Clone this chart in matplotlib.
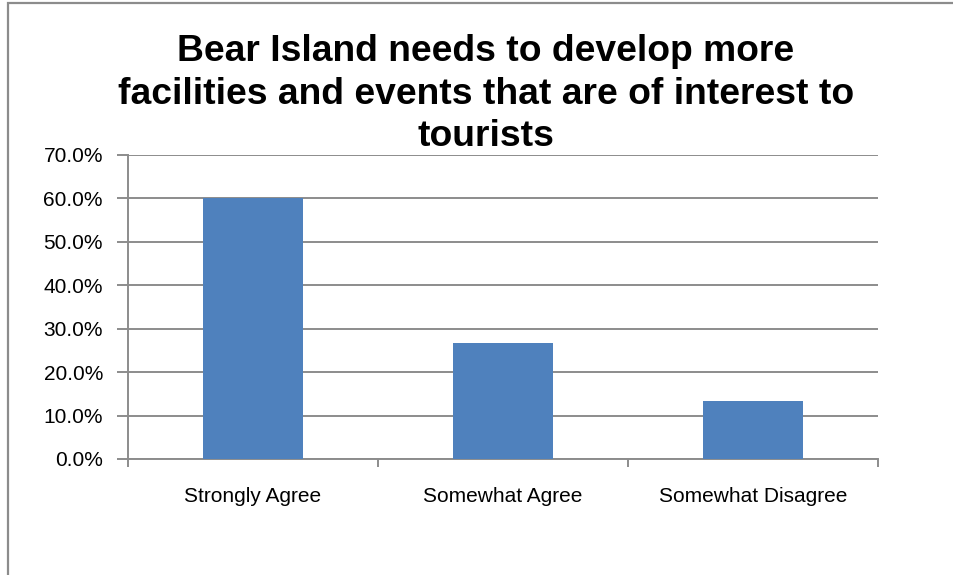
import matplotlib.pyplot as plt
from matplotlib.patches import Rectangle
from matplotlib.ticker import PercentFormatter

categories = ["Strongly Agree", "Somewhat Agree", "Somewhat Disagree"]
shares = [60.0, 26.7, 13.3]
yticks = [0, 10, 20, 30, 40, 50, 60, 70]
title = "Bear Island needs to develop more\nfacilities and events that are of interest to\ntourists"

W, H = 954, 575
plt.rcParams["font.family"] = ["Liberation Sans", "DejaVu Sans"]

fig = plt.figure(figsize=(W / 100, H / 100), dpi=100)

# chart frame, running off the right and bottom edges
fig.patches.append(Rectangle((8 / W, -0.1), 1.1, 1 - 3 / H + 0.1,
                             transform=fig.transFigure, fill=False,
                             edgecolor="#8c8c8c", linewidth=1.6))

ax = fig.add_axes([128 / W, 1 - 459 / H, 750 / W, 304 / H])
x = range(len(categories))
ax.bar(x, shares, width=0.4, color="#4f81bd", zorder=3)

ax.set_xlim(-0.5, len(categories) - 0.5)
ax.set_ylim(0, 70)
ax.set_yticks(yticks)
ax.yaxis.set_major_formatter(PercentFormatter(decimals=1))
ax.set_xticks(x)
ax.set_xticklabels(categories)
ax.set_xticks([-0.5, 0.5, 1.5, 2.5], minor=True)

ax.grid(axis="y", color="#8c8c8c", linewidth=1.4, zorder=0)
for side in ("top", "right"):
    ax.spines[side].set_visible(False)
for side in ("left", "bottom"):
    ax.spines[side].set_color("#8c8c8c")
    ax.spines[side].set_linewidth(1.4)

ax.tick_params(axis="y", length=8, width=1.4, color="#8c8c8c",
               labelsize=15, pad=10)
ax.tick_params(axis="x", which="major", length=0, labelsize=15, pad=20)
ax.tick_params(axis="x", which="minor", length=6, width=1.4, color="#8c8c8c")

fig.text(486 / W, 1 - 94 / H, title, ha="center", va="center",
         fontsize=26.8, fontweight="bold", linespacing=1.28)

fig.savefig("out.png", dpi=100)
